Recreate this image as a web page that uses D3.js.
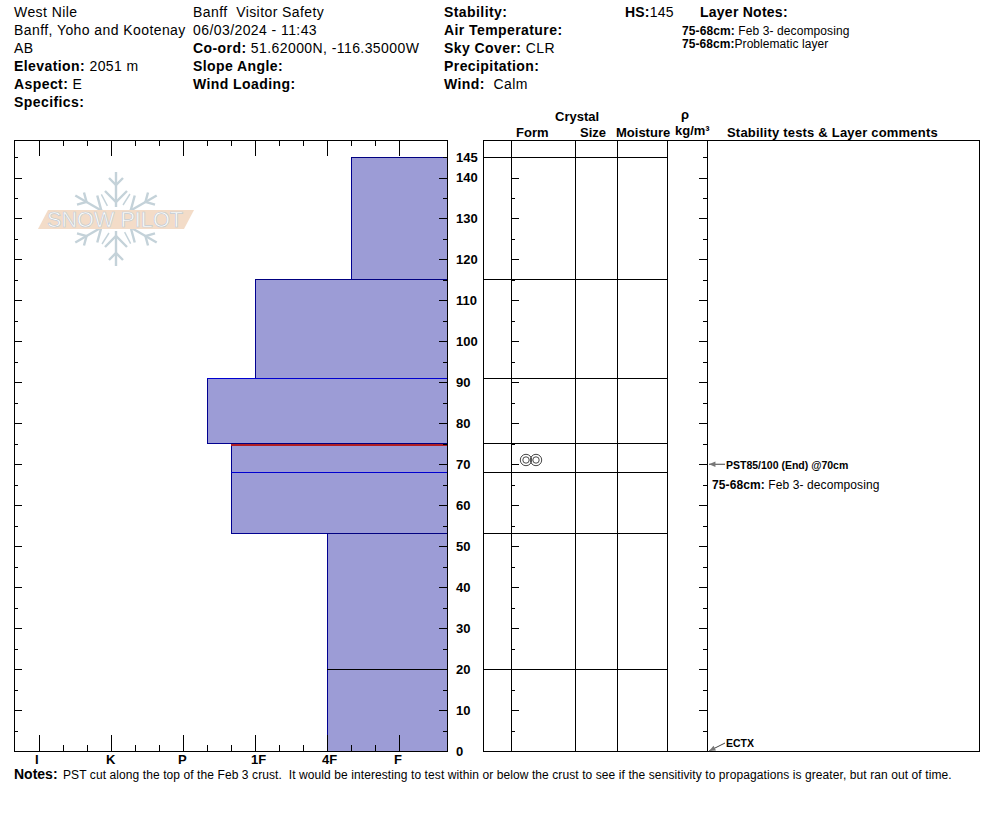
<!DOCTYPE html>
<html><head><meta charset="utf-8">
<script src="https://cdn.jsdelivr.net/npm/d3@7"></script>
<style>
html,body{margin:0;padding:0;background:#fff}
svg{display:block}
text{font-family:"Liberation Sans",Arial,sans-serif;fill:#000}
</style></head><body><svg id="c" width="994" height="840"></svg>
<script>
// ---- data ----
const hardnessLabels = ["I","K","P","1F","4F","F"];
const layerTops      = [145,115,91,75,68,53,20];
const layerBottoms   = [115,91,75,68,53,20,0];
const layerHardness  = ["4F-","1F","P-","P+","P+","4F","4F"];
const layerEdges     = ["#000080","#000080","#0000d0","#000080","#0000d0","#000080","#000000"];
const hardnessIndex  = {"P-":2.34,"P+":2.667,"1F":3,"4F":4,"4F-":4.34};
const depthLabels    = [145,140,130,120,110,100,90,80,70,60,50,40,30,20,10,0];
const criticalLayerTop = 75;
const headerLeft  = [["", "West Nile"],["", "Banff, Yoho and Kootenay"],["", "AB"],["Elevation:"," 2051 m"],["Aspect:"," E"],["Specifics:",""]];
const headerMid   = [["", "Banff  Visitor Safety"],["", "06/03/2024 - 11:43"],["Co-ord:"," 51.62000N, -116.35000W"],["Slope Angle:",""],["Wind Loading:",""]];
const headerRight = [["Stability:",""],["Air Temperature:",""],["Sky Cover:"," CLR"],["Precipitation:",""],["Wind:","  Calm"]];
const columnEdges = [483,511,575,617,667,707,979];
const notesText = "PST cut along the top of the Feb 3 crust.  It would be interesting to test within or below the crust to see if the sensitivity to propagations is greater, but ran out of time.";

// ---- scales ----
const svg = d3.select("#c");
const y = d3.scaleLinear().domain([0,145]).range([751,157.05]);
const x = d3.scaleLinear().domain([0,5]).range([39,399]);
const plotL=14, plotR=447, plotT=140, plotB=751;
const depth5  = d3.range(0,146,5);
const major10 = depth5.filter(d=>d%10===0);
const minor5  = depth5.filter(d=>d%10!==0);
const hMajor  = d3.range(0,6);
const hMinor  = d3.range(0,5.01,1/3).filter(d=>Math.abs(d-Math.round(d))>0.01);

function txt(g,t,px,py,opt={}){
  return g.append("text").attr("x",px).attr("y",py).text(t)
    .attr("font-size",opt.size||14).attr("font-weight",opt.bold?"bold":"normal")
    .attr("letter-spacing",opt.ls||0)
    .attr("text-anchor",opt.anchor||"start").style("white-space","pre");
}
function rich(px,py,pair,size,ls){
  const t=svg.append("text").attr("x",px).attr("y",py).attr("font-size",size||14).attr("letter-spacing",ls===undefined?0.42:ls).style("white-space","pre");
  if(pair[0]) t.append("tspan").attr("font-weight","bold").text(pair[0]);
  if(pair[1]) t.append("tspan").text(pair[1]);
}
headerLeft.forEach((p,i)=>rich(14,17+18*i,p));
headerMid.forEach((p,i)=>rich(193,17+18*i,p));
headerRight.forEach((p,i)=>rich(444,17+18*i,p));
rich(625,17,["HS:","145"],14,0.2);
txt(svg,"Layer Notes:",700,17,{bold:true,ls:0.25});
rich(682,35,["75-68cm:"," Feb 3- decomposing"],12,0.1);
rich(682,48,["75-68cm:","Problematic layer"],12,0.06);

// ---- logo ----
const logo = svg.append("g").attr("transform","translate(116,219)");
[0,60,120,180,240,300].forEach(a=>{
  const arm=logo.append("g").attr("transform",`rotate(${a})`).attr("stroke","#c4d2d9").attr("fill","none").attr("stroke-width",2.4);
  arm.append("path").attr("d","M0,-12L0,-47");
  arm.append("path").attr("d","M-11,-28L0,-17L11,-28");
  arm.append("path").attr("d","M-7,-41L0,-34L7,-41");
  arm.append("path").attr("d","M7,-14L14,-25").attr("stroke-width",1.4);
});
logo.append("path").attr("d","M-78,10L-68,-9L78,-9L68,10Z").attr("fill","#f3dcc8");
logo.append("text").attr("x",-1).attr("y",7.5).attr("text-anchor","middle").attr("font-size",22).attr("textLength",136)
  .attr("lengthAdjust","spacingAndGlyphs").style("fill","#ffffff").attr("stroke","#c2cad0").attr("stroke-width",0.7).text("SNOW PILOT");

// ---- hardness bars ----
const bars = layerTops.map((t,i)=>({t,b:layerBottoms[i],h:layerHardness[i],e:layerEdges[i]}));
svg.append("g").selectAll("rect").data(bars).join("rect")
  .attr("x",d=>x(hardnessIndex[d.h])).attr("y",d=>y(d.t))
  .attr("width",d=>plotR-x(hardnessIndex[d.h])).attr("height",d=>y(d.b)-y(d.t))
  .attr("fill","#9c9cd6").attr("stroke","#000090").attr("stroke-width",1).attr("shape-rendering","crispEdges");
svg.append("g").selectAll("line").data(bars).join("line")
  .attr("x1",d=>x(hardnessIndex[d.h])).attr("x2",plotR).attr("y1",d=>y(d.t)).attr("y2",d=>y(d.t))
  .attr("stroke",d=>d.e).attr("stroke-width",1).attr("shape-rendering","crispEdges");
const crit = bars.find(d=>d.t===criticalLayerTop);
svg.append("line").attr("x1",x(hardnessIndex[crit.h])).attr("x2",plotR).attr("y1",y(crit.t)+1.5).attr("y2",y(crit.t)+1.5)
  .attr("stroke","#b01e23").attr("stroke-width",2).attr("shape-rendering","crispEdges");

// ---- plot frame and ticks ----
const frame = svg.append("g").attr("fill","none").attr("stroke","#000").attr("shape-rendering","crispEdges");
frame.append("rect").attr("x",plotL).attr("y",plotT).attr("width",plotR-plotL).attr("height",plotB-plotT);
function axis(gen,tx,ty){
  const g=svg.append("g").attr("transform",`translate(${tx},${ty})`).attr("shape-rendering","crispEdges").call(gen);
  g.select(".domain").remove(); g.selectAll("text").remove(); g.selectAll("line").attr("stroke","#000");
}
axis(d3.axisRight(y).tickValues(major10).tickSize(8),plotL,0);
axis(d3.axisRight(y).tickValues(minor5).tickSize(4),plotL,0);
axis(d3.axisLeft(y).tickValues(major10).tickSize(8),plotR,0);
axis(d3.axisLeft(y).tickValues(minor5).tickSize(4),plotR,0);
axis(d3.axisBottom(x).tickValues(hMajor).tickSize(16),0,plotT);
axis(d3.axisBottom(x).tickValues(hMinor).tickSize(6),0,plotT);
axis(d3.axisTop(x).tickValues(hMajor).tickSize(16),0,plotB);
axis(d3.axisTop(x).tickValues(hMinor).tickSize(6),0,plotB);

hardnessLabels.forEach((l,i)=>txt(svg,l,x(i)-(i===0||i===3?4:5),764,{size:13,bold:true}));
depthLabels.forEach(d=>txt(svg,d,456,y(d)+4.5,{size:13,bold:true}));

// ---- table ----
const right = svg.append("g").attr("fill","none").attr("stroke","#000").attr("shape-rendering","crispEdges");
right.append("rect").attr("x",columnEdges[0]).attr("y",plotT).attr("width",columnEdges[6]-columnEdges[0]).attr("height",plotB-plotT);
columnEdges.slice(1,-1).forEach(c=>right.append("line").attr("x1",c).attr("x2",c).attr("y1",plotT).attr("y2",plotB));
layerTops.forEach(t=>right.append("line").attr("x1",columnEdges[0]).attr("x2",columnEdges[4]).attr("y1",y(t)).attr("y2",y(t)));
axis(d3.axisRight(y).tickValues(major10).tickSize(8),columnEdges[1],0);
axis(d3.axisRight(y).tickValues(minor5).tickSize(4),columnEdges[1],0);
axis(d3.axisLeft(y).tickValues(major10).tickSize(8),columnEdges[5],0);
axis(d3.axisLeft(y).tickValues(minor5).tickSize(4),columnEdges[5],0);

txt(svg,"Crystal",555,121,{size:13,bold:true});
txt(svg,"Form",516,137,{size:13,bold:true});
txt(svg,"Size",580,137,{size:13,bold:true});
txt(svg,"Moisture",616,137,{size:13,bold:true});
txt(svg,"ρ",681,119,{size:13,bold:true});
txt(svg,"kg/m³",675,135,{size:13,bold:true});
txt(svg,"Stability tests & Layer comments",727,137,{size:13,bold:true,ls:0.2});

// grain form symbol
[526,536].forEach(cx=>[5.7,3.2].forEach(r=>svg.append("circle").attr("cx",cx).attr("cy",460).attr("r",r)
  .attr("fill","none").attr("stroke","#333").attr("stroke-width",0.9)));

// ---- tests and comments ----
function marker(d,x1,y1){
  const yy=y(d), xx=columnEdges[5]+2;
  const a=Math.atan2(y1-yy,x1-xx);
  svg.append("line").attr("x1",xx).attr("y1",yy).attr("x2",x1).attr("y2",y1).attr("stroke","#444");
  const p=(l,da)=>[xx+l*Math.cos(a+da),yy+l*Math.sin(a+da)];
  svg.append("path").attr("d",d3.line()([[xx,yy],p(7,.4),p(7,-.4)])+"Z").attr("fill","#777");
}
marker(70,725,y(70));
txt(svg,"PST85/100 (End) @70cm",726,468.5,{size:10.5,bold:true});
rich(712,489,["75-68cm:"," Feb 3- decomposing"],12,0.1);
marker(0,725,743);
txt(svg,"ECTX",726,747,{size:10.5,bold:true});

// ---- notes ----
txt(svg,"Notes:",14,779,{size:14,bold:true});
txt(svg,notesText,63,779,{size:12,ls:0.09});
</script></body></html>
